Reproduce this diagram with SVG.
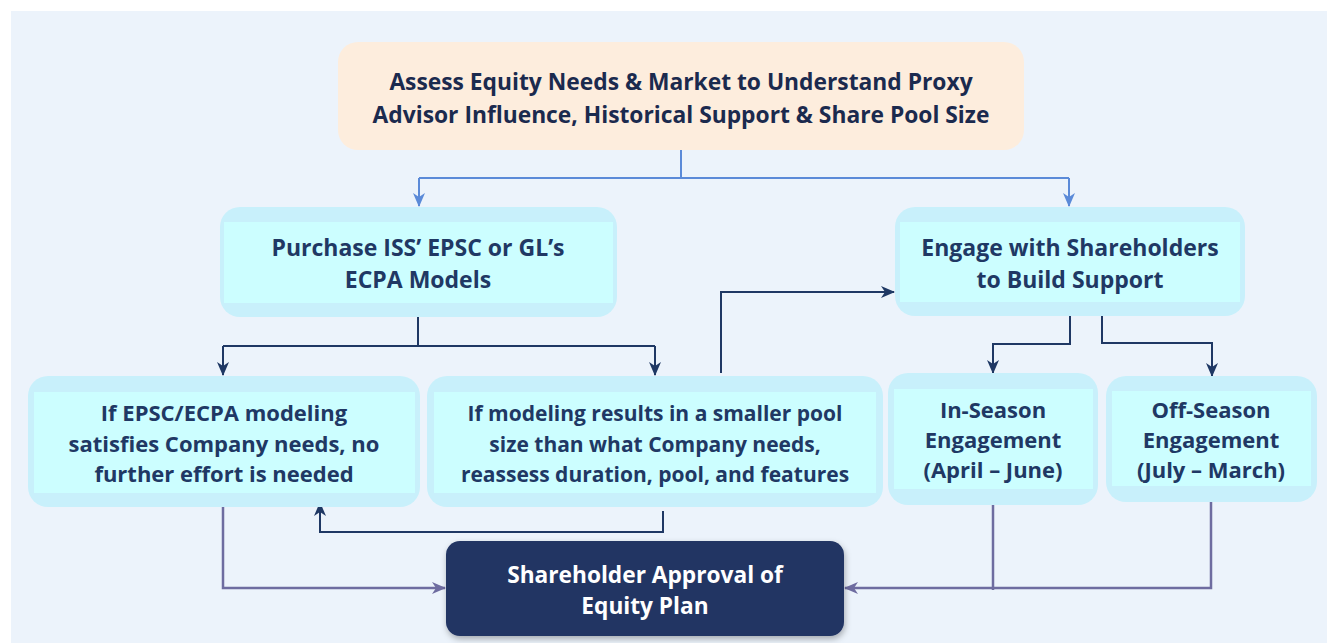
<svg xmlns="http://www.w3.org/2000/svg" width="1327" height="643" viewBox="0 0 1327 643">
  <defs>
    <style>
      .t { font-family: "Open Sans", "Noto Sans", "DejaVu Sans", sans-serif; font-weight: 700; text-anchor: middle; }
      .top { fill: #1B2A4E; font-size: 22.8px; }
      .box { fill: #203864; font-size: 22px; }
      .big { font-size: 23px; }
      .mid { font-size: 21px; }
      .wh { fill: #FFFFFF; font-size: 22.7px; }
      .outer { fill: #C8F0FB; }
      .inner { fill: #CCFEFF; }
      .blue { fill: none; stroke: #5B8AD8; stroke-width: 2; }
      .navy { fill: none; stroke: #1F3864; stroke-width: 2; }
      .purp { fill: none; stroke: #6E6CA0; stroke-width: 2.5; }
    </style>
    <marker id="aBlue" markerUnits="userSpaceOnUse" markerWidth="14" markerHeight="14" viewBox="0 0 14 14" refX="13" refY="7" orient="auto">
      <path d="M0,1 L14,7 L0,13 L4,7 z" fill="#5B8AD8"/>
    </marker>
    <marker id="aNavy" markerUnits="userSpaceOnUse" markerWidth="14" markerHeight="14" viewBox="0 0 14 14" refX="13" refY="7" orient="auto">
      <path d="M0,1 L14,7 L0,13 L4,7 z" fill="#1F3864"/>
    </marker>
    <marker id="aPurp" markerUnits="userSpaceOnUse" markerWidth="14" markerHeight="14" viewBox="0 0 14 14" refX="13" refY="7" orient="auto">
      <path d="M0,1 L14,7 L0,13 L4,7 z" fill="#6E6CA0"/>
    </marker>
    <filter id="shadow" x="-10%" y="-20%" width="120%" height="150%">
      <feDropShadow dx="1" dy="3" stdDeviation="3" flood-color="#000000" flood-opacity="0.3"/>
    </filter>
  </defs>

  <rect x="0" y="0" width="1327" height="643" fill="#FFFFFF"/>
  <rect x="11" y="11" width="1316" height="632" fill="#ECF3FB"/>

  <g id="connectors">
    <path class="blue" d="M681,150 V178 M419,178 H1069"/>
    <path class="blue" d="M419,178 V206" marker-end="url(#aBlue)"/>
    <path class="blue" d="M1069,178 V206" marker-end="url(#aBlue)"/>
    <path class="navy" d="M418,317 V346 M223,346 H655"/>
    <path class="navy" d="M223,346 V375" marker-end="url(#aNavy)"/>
    <path class="navy" d="M655,346 V375" marker-end="url(#aNavy)"/>
    <path class="navy" d="M721,373 V292 H894" marker-end="url(#aNavy)"/>
    <path class="navy" d="M1070,316 V344 H993 V373" marker-end="url(#aNavy)"/>
    <path class="navy" d="M1102,313 V343 H1212 V376" marker-end="url(#aNavy)"/>
    <path class="navy" d="M663,511 V532 H320 V503" marker-end="url(#aNavy)"/>
    <path class="purp" d="M223,507 V588 H445" marker-end="url(#aPurp)"/>
    <path class="purp" d="M993,505 V590"/>
    <path class="purp" d="M1211,502 V588 H845" marker-end="url(#aPurp)"/>
  </g>

  <g id="assess">
    <rect x="338" y="42" width="686" height="108" rx="20" fill="#FDEDDD"/>
    <text class="t top" x="681" y="90">Assess Equity Needs &amp; Market to Understand Proxy</text>
    <text class="t top" x="681" y="123">Advisor Influence, Historical Support &amp; Share Pool Size</text>
  </g>

  <g id="purchase">
    <rect class="outer" x="220" y="207" width="397" height="110" rx="20"/>
    <rect class="inner" x="224" y="222" width="389" height="81"/>
    <text class="t box big" x="418" y="256">Purchase ISS’ EPSC or GL’s</text>
    <text class="t box big" x="418" y="288">ECPA Models</text>
  </g>

  <g id="engage">
    <rect class="outer" x="895" y="207" width="350" height="109" rx="20"/>
    <rect class="inner" x="900" y="222" width="340" height="80"/>
    <text class="t box big" x="1070" y="256">Engage with Shareholders</text>
    <text class="t box big" x="1070" y="288">to Build Support</text>
  </g>

  <g id="satisfies">
    <rect class="outer" x="28" y="376" width="392" height="131" rx="20"/>
    <rect class="inner" x="34" y="392" width="381" height="101"/>
    <text class="t box" x="224" y="421">If EPSC/ECPA modeling</text>
    <text class="t box" x="224" y="452">satisfies Company needs, no</text>
    <text class="t box" x="224" y="482">further effort is needed</text>
  </g>

  <g id="smaller">
    <rect class="outer" x="427" y="376" width="456" height="131" rx="20"/>
    <rect class="inner" x="434" y="392" width="442" height="101"/>
    <text class="t box mid" x="655" y="421">If modeling results in a smaller pool</text>
    <text class="t box mid" x="655" y="452">size than what Company needs,</text>
    <text class="t box mid" x="655" y="482">reassess duration, pool, and features</text>
  </g>

  <g id="inseason">
    <rect class="outer" x="888" y="373" width="210" height="132" rx="20"/>
    <rect class="inner" x="894" y="389" width="199" height="100"/>
    <text class="t box" x="993" y="418">In-Season</text>
    <text class="t box" x="993" y="448">Engagement</text>
    <text class="t box" x="993" y="478">(April – June)</text>
  </g>

  <g id="offseason">
    <rect class="outer" x="1106" y="376" width="211" height="126" rx="20"/>
    <rect class="inner" x="1112" y="391" width="199" height="95"/>
    <text class="t box" x="1211" y="418">Off-Season</text>
    <text class="t box" x="1211" y="448">Engagement</text>
    <text class="t box" x="1211" y="478">(July – March)</text>
  </g>

  <g id="approval">
    <rect x="446" y="541" width="398" height="95" rx="14" fill="#213463" filter="url(#shadow)"/>
    <text class="t wh" x="645" y="583">Shareholder Approval of</text>
    <text class="t wh" x="645" y="614">Equity Plan</text>
  </g>
</svg>
